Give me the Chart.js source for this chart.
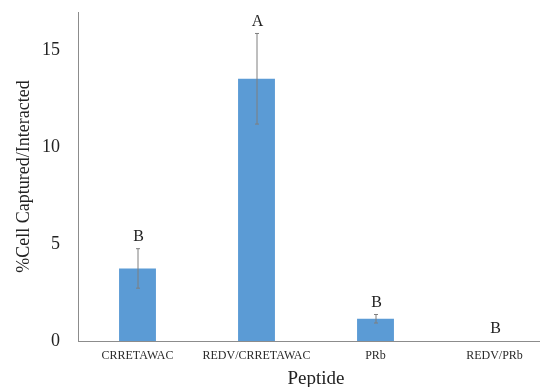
<!DOCTYPE html>
<html>
    <head>
        <meta charset="utf-8">
        <script src="https://cdn.jsdelivr.net/npm/chart.js@4.4.0/dist/chart.umd.min.js"></script>
        <style>
            html, body { margin: 0; padding: 0; background: #fff; overflow: hidden; }
            #box { width: 540px; height: 387px; overflow: hidden; }
        </style>
    </head>
    <body>
        <div id="box">
            <canvas id="wykres" width="556" height="390"></canvas>
        </div>
        <script>
            var peptydy = ["CRRETAWAC", "REDV/CRRETAWAC", "PRb", "REDV/PRb"];
            var srednie = [3.75, 13.55, 1.15, 0];
            var bledy = [1.02, 2.34, 0.22, 0];
            var litery = ["B", "A", "B", "B"];
            var yTicks = [0, 5, 10, 15];

            var serif = "'Liberation Serif', 'Times New Roman', serif";

            // slupki bledow i litery nad slupkami
            var bledyPlugin = {
                id: "bledy",
                afterDatasetsDraw: function(chart) {
                    var c = chart.ctx;
                    var xs = chart.scales.x, ys = chart.scales.y;
                    c.save();
                    for (var i = 0; i < srednie.length; i++) {
                        var x = xs.getPixelForValue(i);
                        var gora = ys.getPixelForValue(srednie[i] + bledy[i]);
                        var dol = ys.getPixelForValue(srednie[i] - bledy[i]);
                        if (bledy[i] > 0) {
                            c.strokeStyle = "#7f7f7f";
                            c.lineWidth = 1;
                            c.beginPath();
                            c.moveTo(x + 0.5, gora);
                            c.lineTo(x + 0.5, dol);
                            c.moveTo(x - 1.5, gora);
                            c.lineTo(x + 2.5, gora);
                            c.moveTo(x - 1.5, dol);
                            c.lineTo(x + 2.5, dol);
                            c.stroke();
                        }
                        c.fillStyle = "#222";
                        c.font = "16px " + serif;
                        c.textAlign = "center";
                        c.textBaseline = "middle";
                        c.fillText(litery[i], x + 1, gora - 12);
                    }
                    c.restore();
                }
            };

            var dane = {
                labels: peptydy,
                datasets: [{
                    data: srednie,
                    backgroundColor: "#5b9bd5",
                    borderWidth: 0,
                    barPercentage: 0.31,
                    categoryPercentage: 1.0
                }]
            };

            const ctx = document.getElementById("wykres").getContext("2d");
            const wykres = new Chart(ctx, {
                type: "bar",
                data: dane,
                plugins: [bledyPlugin],
                options: {
                    responsive: false,
                    animation: false,
                    layout: { padding: { top: 12, right: 2, left: 13, bottom: 0 } },
                    plugins: { legend: { display: false }, tooltip: { enabled: false } },
                    scales: {
                        x: {
                            grid: { display: false },
                            border: { display: true, color: "#8c8c8c", width: 1 },
                            ticks: { color: "#2a2a2a", padding: 0, maxRotation: 0, font: { family: serif, size: 12 } },
                            title: { display: true, text: "Peptide", color: "#222", padding: { top: 4, bottom: 0 }, font: { family: serif, size: 19 } },
                            afterFit: function(s) { s.height = 49; s.paddingLeft = 0; s.paddingRight = 0; }
                        },
                        y: {
                            min: 0,
                            max: 17,
                            afterBuildTicks: function(s) { s.ticks = yTicks.map(function(v) { return { value: v }; }); },
                            grid: { display: false },
                            border: { display: true, color: "#8c8c8c", width: 1 },
                            ticks: { color: "#222", padding: 10, font: { family: serif, size: 18 } },
                            title: { display: true, text: "%Cell Captured/Interacted", color: "#222", padding: 0, font: { family: serif, size: 18 } },
                            afterFit: function(s) { s.width = 65; s.paddingTop = 0; s.paddingBottom = 0; }
                        }
                    }
                }
            });
        </script>
    </body>
</html>
